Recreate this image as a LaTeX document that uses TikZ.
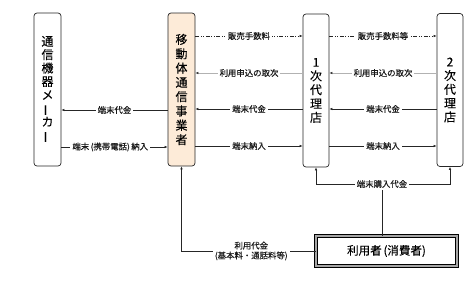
\documentclass[tikz,border=0pt]{standalone}
\usepackage{fontspec}
\usepackage{graphicx}
\setmainfont{Noto Sans CJK JP}
\newfontfamily\labfont[FakeBold=0.35]{Noto Sans CJK JP}
\newfontfamily\boxfont[FakeBold=0.2]{Noto Sans CJK JP}
\usetikzlibrary{arrows.meta}
\definecolor{peach}{HTML}{FDEBD8}
\tikzset{
  party/.style={draw=black!85, line width=0.7pt, rounded corners=3pt, minimum width=27pt, minimum height=153pt, inner sep=0pt, align=center},
  flow/.style={draw=black!85, line width=0.6pt, -{Latex[length=3pt,width=2.6pt]}},
  plain/.style={draw=black!85, line width=0.6pt},
  lab/.style={fill=white, inner sep=2pt, font=\labfont\fontsize{8.4}{9.8}\selectfont, text=black!90},
  dd/.style={dash pattern=on 4pt off 1.5pt on 1pt off 1.5pt on 1pt off 1.5pt},
  greyflow/.style={draw=black!30, line width=0.8pt, -{Latex[length=3pt,width=2.6pt,color=black!80]}}
}
\newcommand{\vbar}{\rotatebox[origin=c]{90}{ー}}
\begin{document}
\begin{tikzpicture}[x=1pt,y=-1pt]
\useasboundingbox (0,0) rectangle (467,284);
\node[party, font=\boxfont\fontsize{12}{13.4}\selectfont] (maker) at (47.5,89.5) {通\\信\\機\\器\\メ\\\vbar\\カ\\\vbar};
\node[party, fill=peach, font=\boxfont\fontsize{12}{14.3}\selectfont] (carrier) at (181.5,89.5) {移\\動\\体\\通\\信\\事\\業\\者};
\node[party, minimum width=26pt, font=\boxfont\fontsize{12}{13.8}\selectfont] (agent1) at (316,90.5) {1\\次\\代\\理\\店};
\node[party, minimum width=26pt, font=\boxfont\fontsize{12}{13.8}\selectfont] (agent2) at (450,90) {2\\次\\代\\理\\店};
\node[draw=black, line width=0.6pt, double=black!35, double distance=2pt, minimum width=141pt, minimum height=30pt, font=\boxfont\fontsize{11.5}{14}\selectfont] (user) at (386.5,251) {利用者\,(消費者)};

\coordinate (r1) at (0,36);
\coordinate (r2) at (0,73);
\coordinate (r3) at (0,109);
\coordinate (r4) at (0,146);

% row 1
\draw[flow, dd] (carrier.east |- r1) -- node[lab]{販売手数料} (agent1.west |- r1);
\draw[flow, dd] (agent1.east |- r1) -- node[lab]{販売手数料等} (agent2.west |- r1);
% row 2
\draw[greyflow] (agent1.west |- r2) -- node[lab]{利用申込の取次} (carrier.east |- r2);
\draw[greyflow] (agent2.west |- r2) -- node[lab]{利用申込の取次} (agent1.east |- r2);
% row 3
\draw[flow] (agent1.west |- r3) -- node[lab]{端末代金} (carrier.east |- r3);
\draw[flow] (agent2.west |- r3) -- node[lab]{端末代金} (agent1.east |- r3);
\draw[flow] (carrier.west |- 0,110) -- node[lab]{端末代金} (maker.east |- 0,110);
% row 4
\draw[flow] (carrier.east |- r4) -- node[lab]{端末納入} (agent1.west |- r4);
\draw[flow] (agent1.east |- r4) -- node[lab]{端末納入} (agent2.west |- r4);
\draw[flow] (maker.east |- 0,147) -- node[lab, pos=0.46]{端末\,(携帯電話)\,納入} (carrier.west |- 0,147);

% purchase payment
\coordinate (j) at (382,184);
\draw[flow] (j) -| (agent1.south);
\draw[flow] (j) -| (agent2.south);
\draw[plain] (user.north -| j) -- (j);
\node[lab] (pay) at (j) {端末購入代金};

% usage fee
\draw[flow] (user.west) -- node[lab, align=center, pos=0.48]{利用代金\\(基本料・通話料等)} (carrier.south |- user.west) -- (carrier.south);
\end{tikzpicture}
\end{document}
